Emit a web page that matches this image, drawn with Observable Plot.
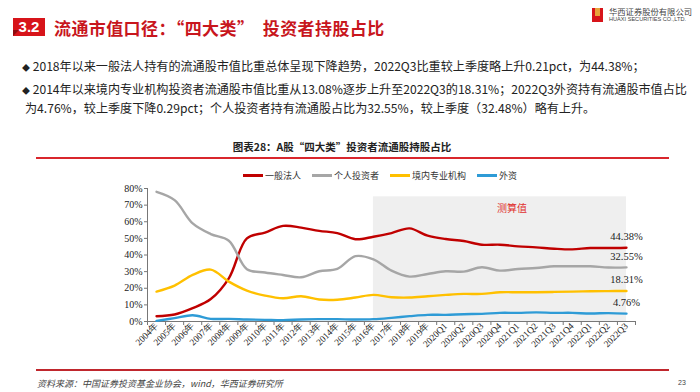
<!DOCTYPE html>
<html><head><meta charset="utf-8">
<script src="https://cdn.jsdelivr.net/npm/d3@7"></script>
<script src="https://cdn.jsdelivr.net/npm/@observablehq/plot@0.6"></script>
<style>
html,body{margin:0;padding:0;background:#fff;}
#page{position:relative;width:700px;height:392px;overflow:hidden;font-family:"Noto Sans CJK SC","Noto Sans",sans-serif;color:#222;}
.abs{position:absolute;white-space:nowrap;}
.bul{font-size:12.1px;color:#222;line-height:12px;}
.leg{font-size:9px;color:#333;display:flex;align-items:center;}
.sw{display:inline-block;width:20px;height:3px;margin-right:2px;}
</style></head>
<body><div id="page">
  <div class="abs" style="left:13px;top:18px;width:32px;height:18px;background:#d7141a;"></div>
  <div class="abs" style="left:13px;top:30px;width:0;height:0;border-left:6px solid #8e0a0e;border-bottom:6px solid transparent;"></div>
  <div class="abs" style="left:13px;top:17px;width:32px;text-align:center;font:bold 15px 'Liberation Sans',sans-serif;color:#fff;line-height:20px;">3.2</div>
  <div class="abs" style="left:54px;top:17px;font-size:17px;font-weight:bold;color:#c8161d;line-height:22px;letter-spacing:0.4px;">流通市值口径：“四大类”&nbsp; 投资者持股占比</div>

  <div class="abs" style="left:592px;top:8px;width:11px;height:14px;background:#d7141a;"></div>
  <div class="abs" style="left:595px;top:8px;width:5px;height:8px;background:#e8a33a;"></div>
  <div class="abs" style="left:609px;top:6px;font-size:8.3px;color:#444;font-family:'Noto Sans CJK SC';line-height:10px;">华西证券股份有限公司</div>
  <div class="abs" style="left:609px;top:16px;font-size:5.6px;color:#444;font-family:'Liberation Sans';line-height:7px;">HUAXI SECURITIES CO.,LTD.</div>

  <div class="abs bul" style="left:22px;top:60px;"><span style="font-size:8px;">◆</span> 2018年以来一般法人持有的流通股市值比重总体呈现下降趋势，2022Q3比重较上季度略上升0.21pct，为44.38%；</div>
  <div class="abs bul" style="left:22px;top:83px;"><span style="font-size:8px;">◆</span> 2014年以来境内专业机构投资者流通股市值比重从13.08%逐步上升至2022Q3的18.31%；2022Q3外资持有流通股市值占比</div>
  <div class="abs bul" style="left:25px;top:102px;">为4.76%，较上季度下降0.29pct；个人投资者持有流通股占比为32.55%，较上季度（32.48%）略有上升。</div>

  <div class="abs" style="left:0;width:684px;top:141px;text-align:center;font-size:10.5px;font-weight:bold;color:#222;line-height:12px;">图表28：A股“四大类”投资者流通股持股占比</div>
  <div class="abs" style="left:36px;top:157px;width:633px;height:1.5px;background:#d9262c;"></div>

  <div id="legend" class="abs leg" style="left:243px;top:169px;"></div>
  <div id="chart" class="abs" style="left:90px;top:180px;"></div>

  <div class="abs" style="left:36px;top:369px;width:633px;height:1.5px;background:#c0272d;"></div>
  <div class="abs" style="left:37px;top:378px;font-size:9px;font-style:italic;color:#444;line-height:11px;">资料来源：中国证券投资基金业协会，wind，华西证券研究所</div>
  <div class="abs" style="left:678px;top:379px;font-size:7px;color:#444;font-family:'Liberation Sans';">23</div>
</div>
<script>
const categories = ["2004年","2005年","2006年","2007年","2008年","2009年","2010年","2011年","2012年","2013年","2014年","2015年","2016年","2017年","2018年","2019年","2020Q1","2020Q2","2020Q3","2020Q4","2021Q1","2021Q2","2021Q3","2021Q4","2022Q1","2022Q2","2022Q3"];
const corporate = [3.2,4.2,8.0,13.5,26,50,53.5,57.5,56.5,54.5,53.2,49.5,51.0,53.2,56,51.6,49.6,48.4,46.2,46.2,45.2,44.6,43.8,43.4,44.2,44.17,44.38];
const individual = [78,73,59,52.6,48.6,31.5,29.5,28,26.6,30.2,31.6,39.3,37.4,30.6,27,28.6,30.2,30,32.6,30.6,31.6,32.2,33.2,33.2,33.2,32.48,32.55];
const domesticInst = [18,21.6,28,31.2,24,18.6,15.6,14,15.2,13.2,13.08,14.4,16,14.6,14.4,15.2,16,16.6,16.6,17.6,17.6,17.6,17.8,18,18.2,18.3,18.31];
const foreign = [0.4,2,3.8,1.6,1.6,1.2,1.0,0.8,1.2,1.4,1.4,1.2,1.4,2.2,3.2,4,4,4.4,4.6,5.2,5.2,5.5,5.2,5.2,4.8,5.05,4.76];
const seriesNames = ["一般法人","个人投资者","境内专业机构","外资"];
const seriesColors = ["#c00000","#a6a6a6","#ffc000","#2e9bd6"];
const yTicks = [0,10,20,30,40,50,60,70,80];
const shadeFrom = "2016年", shadeTo = "2022Q3", shadeTop = 75;
const note = {label:"测算值", at:"2021Q1", value:67.5};

const allValues = [corporate, individual, domesticInst, foreign];
const rows = allValues.flatMap((vals, s) => vals.map((v, i) => ({i, v, name: seriesNames[s]})));
const last = allValues.map((vals, s) => ({i: vals.length - 1, v: vals[vals.length - 1], name: seriesNames[s]}));
const n = categories.length;
const centers = d3.range(n);
const bounds = d3.range(n + 1).map(k => k - 0.5);

const leg = document.getElementById("legend");
seriesNames.forEach((nm, k) => {
  const it = document.createElement("span");
  it.style.cssText = "display:inline-flex;align-items:center;margin-right:11px;";
  it.innerHTML = `<span class="sw" style="background:${seriesColors[k]}"></span>${nm}`;
  leg.appendChild(it);
});

const chart = Plot.plot({
  width: 570, height: 185,
  marginLeft: 57, marginRight: 25, marginTop: 8, marginBottom: 44,
  x: {type: "linear", domain: [-0.5, n - 0.5]},
  y: {domain: [0, 80]},
  color: {domain: seriesNames, range: seriesColors},
  style: {fontFamily: "'Liberation Serif', serif", fontSize: "10px", color: "#222", background: "transparent", overflow: "visible"},
  marks: [
    Plot.rect([{a: categories.indexOf(shadeFrom), b: categories.indexOf(shadeTo)}], {x1: "a", x2: "b", y1: 0, y2: shadeTop, fill: "#efefef"}),
    Plot.text([note], {x: d => categories.indexOf(d.at), y: "value", text: "label", dx: -6, fill: "#e0302e", fontSize: 10, fontFamily: "Noto Sans CJK SC"}),
    Plot.axisY({ticks: yTicks, tickFormat: d => d + "%", tickSize: 3, tickPadding: 2, label: null, stroke: "#777"}),
    Plot.axisX({ticks: bounds, tickSize: 4, tickFormat: () => "", label: null, stroke: "#777"}),
    Plot.axisX({ticks: centers, tickSize: 0, tickRotate: -45, tickPadding: 3, tickFormat: i => categories[i], label: null, fontSize: 9.3}),
    Plot.ruleX([-0.5], {y1: 0, y2: 80, stroke: "#777"}),
    Plot.ruleY([0], {stroke: "#777"}),
    Plot.line(rows, {x: "i", y: "v", z: "name", stroke: "name", strokeWidth: 2.4, curve: "catmull-rom"}),
    Plot.text(last, {x: "i", y: "v", text: d => d.v.toFixed(2) + "%", dy: -11, fontSize: 10.5, fill: "#222"})
  ]
});
document.getElementById("chart").appendChild(chart);
</script>
</body></html>
